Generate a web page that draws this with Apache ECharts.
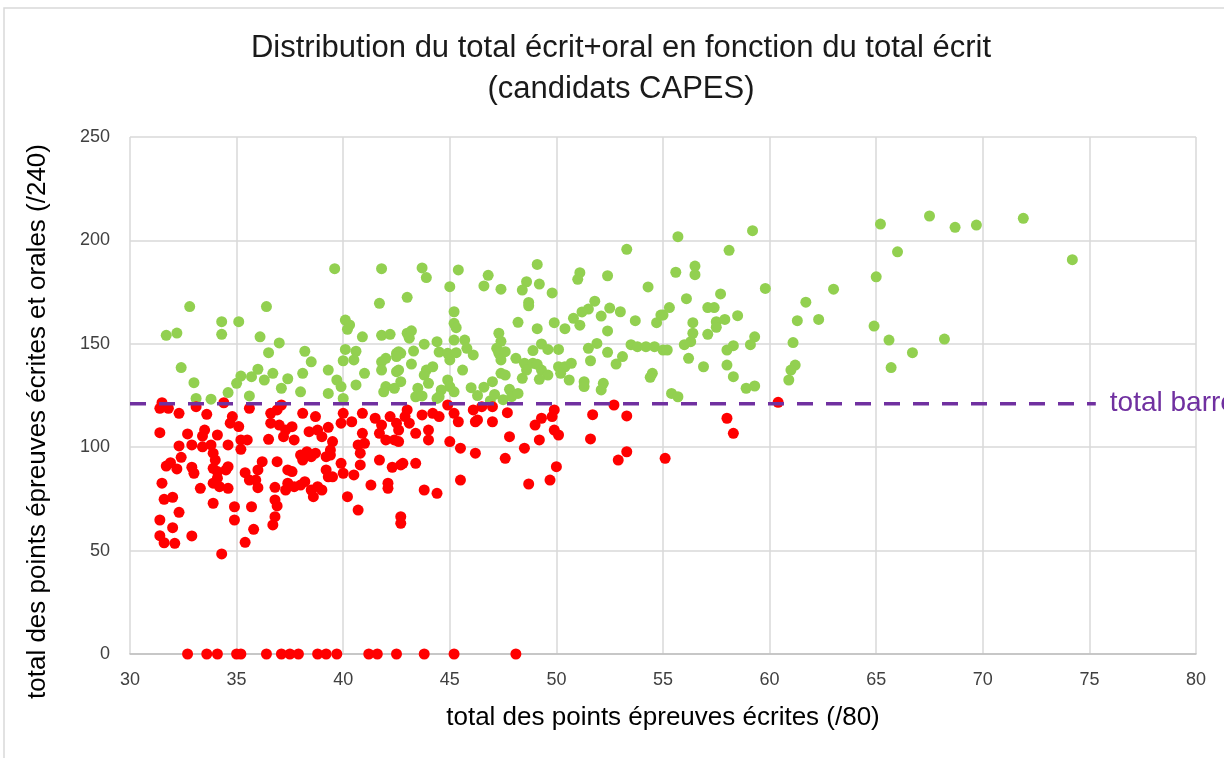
<!DOCTYPE html>
<html>
<head>
<meta charset="utf-8">
<script src="https://cdn.jsdelivr.net/npm/echarts@6/dist/echarts.min.js"></script>
<style>
  html, body { margin: 0; padding: 0; background: #fff; }
  #chart { width: 1224px; height: 758px; }
</style>
</head>
<body>
<div id="chart"></div>
<script>
// admis (total >= barre) : [total écrit, total écrit+oral]
var admis = [
  [39.6,186.3],[41.8,186.3],[32.8,168],[36.4,168],[41.7,169.6],[34.3,160.7],[35.1,160.7],[31.7,154.1],[32.2,155.2],[34.3,154.6],
  [36.1,153.4],[37.0,150.4],[40.1,161.5],[40.3,159.1],[40.2,157],[40.9,153.4],[41.8,154.1],[42.2,154.6],[36.5,145.7],[38.2,146.4],
  [38.5,141.3],[32.4,138.5],[33.0,131.2],[40.1,147.3],[40.6,146.4],[40.0,141.8],[40.5,142.2],[39.3,137.3],[41.0,135.7],[41.8,141.3],
  [42.0,143],[42.5,145.4],[41.8,137.3],[42.5,136.5],[36.0,137.7],[35.2,134.4],[35.7,134.1],[36.3,132.5],[36.7,135.7],[35.0,130.9],
  [34.6,126.4],[37.4,133.1],[38.1,135.7],[37.1,128.5],[38.0,126.8],[39.7,132.5],[39.9,129.3],[40.6,130.1],[42.0,129.3],[41.9,126.8],
  [33.1,123.6],[33.8,123.2],[35.6,124.8],[39.3,126],[40.0,123.6],
  [53.3,195.7],[49.1,188.4],[43.7,186.7],[43.9,182],[45.4,185.7],[46.8,183.1],[46.6,178],[47.4,176.4],[45.0,177.6],[48.6,180],
  [48.4,176],[49.2,178.9],[49.8,174.6],[48.7,170],[48.7,168.4],[51.1,184.4],[51.0,181.2],[52.4,182.9],[54.3,177.5],[43.0,172.5],
  [45.2,165.5],[45.2,159.9],[45.3,157.8],[48.2,160.4],[49.1,157.3],[49.9,160.2],[50.4,157.3],[50.8,162.3],[51.1,159],[51.8,170.6],
  [51.5,166.8],[51.2,165.4],[52.1,163.4],[52.5,167.3],[53.0,165.5],[53.7,161.2],[52.4,156.2],[54.7,160.2],[54.9,163.9],[43.0,155.1],
  [43.2,156.3],[43.1,152.7],[47.3,155.1],[47.4,151.2],[47.2,147.8],[47.3,145.4],[47.4,142.2],[47.6,146.2],[45.2,151.8],[45.7,151.8],
  [45.8,147.8],[46.1,144.6],[43.8,149.8],[43.3,146.5],[44.4,151],[44.5,146],[44.9,145.4],[45.3,145.7],[45.0,142.2],[42.6,146.2],
  [42.7,145.4],[42.5,143.8],[49.3,149.9],[49.6,147.3],[50.1,147.3],[48.9,146.7],[51.5,147.8],[51.9,150.2],[52.4,145.9],[51.6,141.8],
  [53.5,149.6],[53.8,148.6],[54.2,148.6],[54.6,148.6],[55.0,147],[53.1,143.8],[52.8,140.2],[48.1,143],[48.5,140.6],[48.9,140.6],
  [49.1,140.1],[48.6,137.3],[49.3,137.3],[49.6,134.9],[49.2,132.8],[48.4,133.3],[50.1,138.9],[50.4,138.9],[50.7,140.6],[50.2,135.7],
  [50.6,132.5],[51.3,131.7],[51.3,129.3],[52.2,130.9],[52.1,127.7],[54.5,135.7],[54.4,133.8],[42.6,137.3],[42.7,131.7],[42.4,128.5],
  [43.2,140.2],[43.9,137.3],[44.2,138.9],[43.8,134.9],[44.0,130.9],[45.6,137.3],[44.9,132.5],[45.0,129.3],[44.6,127.7],[45.2,126.8],
  [46.0,128.8],[46.6,129],[47.0,131.7],[47.4,135.7],[47.6,134.9],[47.8,128],[43.5,128.5],[43.4,124.4],[43.7,124.8],[44.4,123.6],
  [44.5,124.4],[46.3,125],[46.9,122.5],[47.5,123],[47.9,124.5],[48.2,126],[47.1,125.5],
  [65.2,207.9],[55.7,201.8],[59.2,204.7],[58.1,195.2],[66.0,194.5],[55.6,184.6],[56.5,187.6],[56.5,183.4],[65.0,182.4],[59.8,176.8],
  [63.0,176.4],[57.7,174.1],[56.1,171.8],[61.7,170.1],[55.3,167.5],[55.0,163.9],[57.1,167.5],[57.4,167.5],[58.5,163.6],[56.4,160.2],
  [57.5,160.7],[57.9,161.8],[57.5,158],[61.3,161.2],[62.3,161.8],[64.9,158.6],[56.4,155.1],[57.1,154.6],[56.3,151],[56.0,149.6],
  [59.3,153.4],[59.1,149.6],[58.3,149.1],[58.0,147],[55.2,147],[61.1,150.6],[65.6,151.8],[66.7,145.7],[56.2,143],[56.9,138.9],
  [58.0,139.7],[58.3,134.1],[61.2,139.7],[61.0,137.3],[60.9,132.5],[65.7,138.5],[58.9,128.5],[59.3,129.6],[55.4,126],[55.7,124.4],
  [67.5,211.8],[68.7,206.3],[69.7,207.4],[71.9,210.7],[74.2,190.7],[68.2,152.3]
];

// non admis
var nonAdmis = [
  [31.5,121.5],[31.4,118.8],[31.8,118.8],[32.3,116.4],[33.1,119.6],[33.6,115.9],[34.4,121.5],[34.8,114.8],[34.7,111.6],[35.1,110],
  [35.6,118.8],[35.5,103.5],[35.2,103.5],[31.4,107],[32.7,106.4],[33.4,105.4],[33.5,108.3],[34.1,105.9],[32.9,101.1],[33.4,100.2],
  [33.8,101.1],[34.6,101.1],[32.3,100.6],[32.4,95.1],[31.7,90.9],[31.9,92.5],[32.2,89.5],[32.9,90.3],[33.0,87.4],[33.9,97.1],
  [34.0,93.8],[33.9,89.8],[34.1,88.2],[34.5,89],[34.6,90.6],[33.9,82.6],[34.2,80.9],[34.6,80.1],[34.1,85],[31.5,82.6],
  [31.6,74.8],[32.0,75.8],[32.3,68.5],[31.4,64.8],[32.0,61.1],[31.4,57.2],[31.6,53.8],[32.1,53.5],[32.9,57.1],[34.3,48.4],
  [33.3,80.1],[33.9,72.9],[34.9,71.2],[34.9,64.8],[35.4,54],[35.8,60.3],[35.7,71.2],[35.2,99],[35.4,87.7],[35.9,84.1],
  [36.0,80.4],[36.2,93],[36.0,89],[35.6,84.1],
  [36.6,116.4],[36.9,118],[37.1,120.4],[36.6,111.6],[37.0,110.7],[37.3,108.3],[37.6,109.9],[36.5,103.8],[37.2,105.1],[37.7,103.5],
  [38.1,116.4],[38.7,114.8],[38.4,107.5],[38.8,108.3],[39.3,109.6],[39.0,105.1],[39.5,102.7],[39.4,96.2],[39.9,111.6],[40.0,116.4],
  [40.4,112.3],[40.9,116.4],[40.9,106.7],[41.5,114],[41.7,106.7],[41.8,110.7],[42.2,114.8],[42.5,111.6],[42.0,103.5],[42.4,103.5],
  [36.9,93],[37.4,89],[37.6,88.2],[36.8,80.6],[37.4,82.6],[37.7,80.9],[38.0,81.7],[38.2,83.3],[37.3,79.3],[36.8,74.5],
  [36.9,71.6],[36.8,66.4],[36.7,62.4],[38.0,96.2],[38.3,97.8],[38.5,95.4],[38.7,97.1],[38.1,93.8],[38.5,79.3],[38.6,76.1],
  [38.8,80.9],[39.0,79.3],[39.2,89],[39.3,85.7],[39.5,85.7],[39.2,95.4],[39.4,98.6],[39.9,92.2],[40.0,87.4],[40.2,76.1],
  [40.7,69.6],[40.5,86.6],[40.8,91.4],[40.8,97.1],[41.0,101.9],[40.7,101.1],[41.7,93.8],[42.3,90.3],[41.3,81.7],[42.1,82.6],
  [42.1,80.1],[42.7,91.4],[42.7,66.4],[42.7,63.2],
  [43.0,118],[42.9,114.8],[43.7,115.6],[44.2,116.4],[44.5,114.8],[42.6,108.3],[43.1,111.6],[43.4,106.7],[44.0,108.3],[42.6,102.7],
  [44.0,103.5],[44.9,120.4],[45.2,116.4],[45.4,112.3],[45.0,102.7],[45.5,99.5],[46.2,97.1],[46.1,118],[46.5,119.6],[47.0,119.6],
  [46.3,113.2],[46.2,112.3],[47.0,112.3],[47.7,116.7],[47.8,105.1],[47.6,94.6],[48.5,99.5],[49.0,110.7],[49.3,114],[49.8,114.8],
  [49.9,118],[50.1,105.9],[49.9,108.3],[49.2,103.5],[50.0,90.6],[49.7,84.1],[48.7,82.2],[45.5,84.1],[42.8,92.2],[43.4,92.2],
  [43.8,79.3],[44.4,77.7],[51.7,115.7],[51.6,104],[52.7,120.4],[53.3,115.1],[53.3,97.8],[52.9,93.8],[55.1,94.6],
  [60.4,121.7],[58.0,114],[58.3,106.7],
  [32.7,0],[33.6,0],[34.1,0],[35.0,0],[35.2,0],[36.4,0],[37.1,0],[37.5,0],[37.9,0],[38.8,0],
  [39.2,0],[39.7,0],[41.2,0],[41.6,0],[42.5,0],[43.8,0],[45.2,0],[48.1,0]
];

var barre = 121;
var barreDebut = 30;
var barreFin = 75.3;
var barreLabel = 'total barre';

var xTicks = [30, 80, 5];   // min, max, pas
var yTicks = [0, 250, 50];

var chart = echarts.init(document.getElementById('chart'));
var option = {
  animation: false,
  backgroundColor: '#ffffff',
  title: {
    text: 'Distribution du total écrit+oral en fonction du total écrit\n(candidats CAPES)',
    left: 616,
    top: 23,
    textAlign: 'center',
    textStyle: {
      fontFamily: 'Liberation Sans',
      fontSize: 31,
      fontWeight: 'normal',
      color: '#1a1a1a',
      lineHeight: 41
    }
  },
  graphic: [{
    type: 'rect',
    shape: { x: 4, y: 8, width: 1260, height: 800 },
    style: { fill: null, stroke: '#d9d9d9', lineWidth: 1.5 },
    silent: true
  }],
  grid: { left: 130, right: 28, top: 137, bottom: 104 },
  xAxis: {
    type: 'value',
    min: xTicks[0], max: xTicks[1], interval: xTicks[2],
    name: 'total des points épreuves écrites (/80)',
    nameLocation: 'middle',
    nameGap: 51,
    nameTextStyle: { fontFamily: 'Liberation Sans', fontSize: 26, color: '#000' },
    axisLine: { lineStyle: { color: '#bfbfbf', width: 1.5 } },
    axisTick: { show: false },
    axisLabel: { fontFamily: 'Liberation Sans', fontSize: 18, color: '#404040', margin: 17 },
    splitLine: { lineStyle: { color: '#d9d9d9', width: 1.5 } }
  },
  yAxis: {
    type: 'value',
    min: yTicks[0], max: yTicks[1], interval: yTicks[2],
    name: 'total des points épreuves écrites et orales (/240)',
    nameLocation: 'middle',
    nameGap: 79,
    nameTextStyle: { fontFamily: 'Liberation Sans', fontSize: 26, color: '#000', padding: [0, 52, 0, 0] },
    axisLine: { show: false },
    axisTick: { show: false },
    axisLabel: { fontFamily: 'Liberation Sans', fontSize: 18, color: '#404040', margin: 20 },
    splitLine: { lineStyle: { color: '#d9d9d9', width: 1.5 } }
  },
  series: [
    {
      type: 'scatter',
      data: admis,
      symbolSize: 11,
      itemStyle: { color: '#92d050', opacity: 1 },
      z: 3
    },
    {
      type: 'scatter',
      data: nonAdmis,
      symbolSize: 11,
      itemStyle: { color: '#ff0000', opacity: 1 },
      z: 3
    },
    {
      type: 'line',
      data: [[barreDebut, barre], [barreFin, barre]],
      symbol: 'none',
      lineStyle: { color: '#7030a0', width: 3.5, type: [16, 13] },
      endLabel: {
        show: true,
        formatter: barreLabel,
        color: '#7030a0',
        fontFamily: 'Liberation Sans',
        fontSize: 28,
        distance: 14
      },
      z: 4
    }
  ]
};
chart.setOption(option);
</script>
</body>
</html>
